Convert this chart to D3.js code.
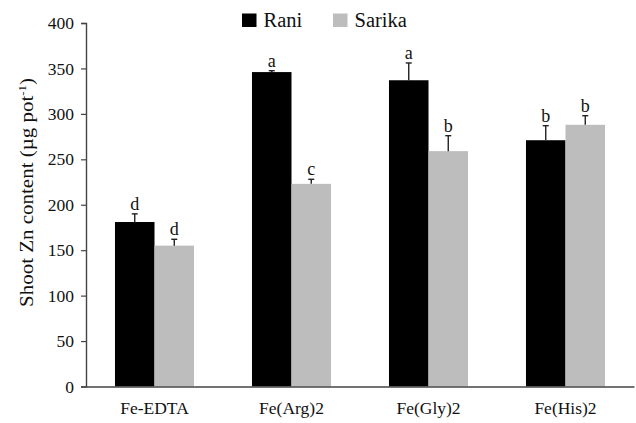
<!DOCTYPE html>
<html><head><meta charset="utf-8">
<script src="https://cdn.jsdelivr.net/npm/d3@7"></script>
<style>body{margin:0;background:#fff}</style>
</head><body>
<svg id="c" width="636" height="423"></svg>
<script>
const categories = ["Fe-EDTA", "Fe(Arg)2", "Fe(Gly)2", "Fe(His)2"];
const seriesNames = ["Rani", "Sarika"];
const rani = [181, 346, 337, 271];
const raniErr = [9, 1.5, 19, 16];
const raniLetters = ["d", "a", "a", "b"];
const sarika = [155, 223, 259, 288];
const sarikaErr = [7, 5, 17, 10];
const sarikaLetters = ["d", "c", "b", "b"];
const yTicks = [0, 50, 100, 150, 200, 250, 300, 350, 400];
const colors = ["#000000", "#bdbdbd"];

const svg = d3.select("#c");
const font = "Liberation Serif, Times New Roman, serif";
const x0 = d3.scaleBand().domain(categories).range([86, 634]).paddingInner(0.423).paddingOuter(0.2115);
const x1 = d3.scaleBand().domain(seriesNames).range([0, x0.bandwidth()]);
const y = d3.scaleLinear().domain([0, 400]).range([386.5, 23]);

const data = [];
categories.forEach((c, i) => {
  data.push({c, s: "Rani", v: rani[i], e: raniErr[i], l: raniLetters[i]});
  data.push({c, s: "Sarika", v: sarika[i], e: sarikaErr[i], l: sarikaLetters[i]});
});

svg.selectAll("rect.bar").data(data).join("rect").attr("class", "bar")
  .attr("x", d => x0(d.c) + x1(d.s))
  .attr("width", x1.bandwidth())
  .attr("y", d => y(d.v))
  .attr("height", d => y(0) - y(d.v))
  .attr("fill", d => colors[seriesNames.indexOf(d.s)]);

const eg = svg.append("g");
data.forEach(d => {
  const cx = x0(d.c) + x1(d.s) + x1.bandwidth() / 2;
  eg.append("line").attr("x1", cx).attr("x2", cx).attr("y1", y(d.v)).attr("y2", y(d.v + d.e))
    .attr("stroke", "#222").attr("stroke-width", 1.4);
  eg.append("line").attr("x1", cx - 3).attr("x2", cx + 3).attr("y1", y(d.v + d.e)).attr("y2", y(d.v + d.e))
    .attr("stroke", "#222").attr("stroke-width", 1.4);
  eg.append("text").attr("x", cx).attr("y", y(d.v + d.e) - 4).attr("text-anchor", "middle")
    .style("font-family", font).attr("font-size", 18).attr("fill", "#111").text(d.l);
});

// y axis
const yAxis = svg.append("g").attr("transform", "translate(86,0)")
  .call(d3.axisLeft(y).tickValues(yTicks).tickSize(5).tickPadding(7));
yAxis.select(".domain").attr("stroke", "#444").attr("stroke-width", 1.4);
yAxis.selectAll(".tick line").attr("stroke", "#444").attr("stroke-width", 1.2);
yAxis.selectAll(".tick text").style("font-family", font).attr("font-size", 17.5).attr("fill", "#111");

// x axis
const xAxis = svg.append("g").attr("transform", "translate(0,386.5)")
  .call(d3.axisBottom(x0).tickSize(0).tickPadding(15));
xAxis.select(".domain").attr("stroke", "#444").attr("stroke-width", 1.4);
xAxis.selectAll(".tick text").style("font-family", font).attr("font-size", 17.5).attr("fill", "#111");

// y label
const ylg = svg.append("g").attr("transform", "translate(33,192.5) rotate(-90)");
const yl = ylg.append("text")
  .attr("text-anchor", "middle").style("font-family", font).attr("font-size", 18).attr("fill", "#111");
yl.append("tspan").text("Shoot Zn content (µg pot");
yl.append("tspan").attr("font-size", 11).attr("dy", -7).text("-1");
yl.append("tspan").attr("dy", 7).text(")");
const w = yl.node().getComputedTextLength();
yl.attr("transform", `scale(${229 / w},1)`);

// legend
const lg = svg.append("g");
const lx = [242, 333];
seriesNames.forEach((s, i) => {
  lg.append("rect").attr("x", lx[i]).attr("y", 13.5).attr("width", 14.5).attr("height", 13.5).attr("fill", colors[i]);
  lg.append("text").attr("x", lx[i] + 21.5).attr("y", 27).style("font-family", font).attr("font-size", 20.5)
    .attr("fill", "#111").text(s);
});
</script>
</body></html>
